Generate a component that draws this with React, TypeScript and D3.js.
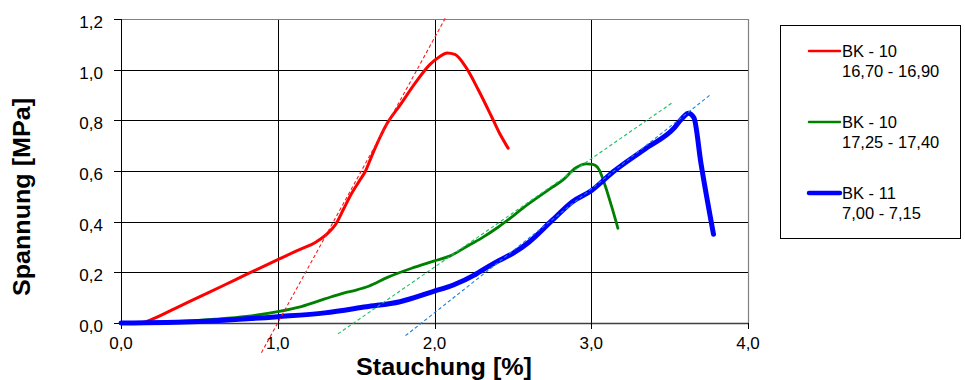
import React from "react";
import * as d3 from "d3";

const redX = [0, 0.1, 0.15, 0.2, 0.35, 0.5, 0.65, 0.8, 1.0, 1.12, 1.25, 1.32, 1.37, 1.42, 1.47, 1.52, 1.56, 1.6, 1.65, 1.7, 1.78, 1.88, 1.97, 2.03, 2.08, 2.13, 2.2, 2.28, 2.36, 2.41, 2.47];
const redY = [0, 0, 0.003, 0.015, 0.059, 0.103, 0.147, 0.192, 0.25, 0.285, 0.322, 0.355, 0.39, 0.45, 0.51, 0.56, 0.6, 0.66, 0.73, 0.79, 0.86, 0.95, 1.02, 1.05, 1.066, 1.06, 1.01, 0.92, 0.82, 0.755, 0.69];

const greenX = [0, 0.3, 0.6, 0.8, 1.0, 1.15, 1.3, 1.42, 1.5, 1.58, 1.7, 1.85, 2.0, 2.1, 2.2, 2.3, 2.41, 2.6, 2.75, 2.82, 2.9, 2.97, 3.01, 3.05, 3.09, 3.13, 3.17];
const greenY = [0, 0.004, 0.015, 0.026, 0.045, 0.065, 0.095, 0.118, 0.13, 0.145, 0.18, 0.215, 0.245, 0.265, 0.3, 0.335, 0.38, 0.47, 0.535, 0.565, 0.612, 0.628, 0.626, 0.605, 0.54, 0.46, 0.374];

const blueX = [0, 0.5, 1.0, 1.3, 1.565, 1.78, 1.99, 2.12, 2.25, 2.29, 2.41, 2.5, 2.6, 2.75, 2.88, 3.0, 3.14, 3.35, 3.53, 3.58, 3.62, 3.655, 3.7, 3.78];
const blueY = [0, 0.006, 0.025, 0.04, 0.064, 0.084, 0.124, 0.15, 0.188, 0.203, 0.246, 0.275, 0.318, 0.405, 0.479, 0.522, 0.597, 0.69, 0.77, 0.808, 0.828, 0.81, 0.63, 0.35];

const redFitX = [0.896, 2.074];
const redFitY = [-0.117, 1.209];
const greenFitX = [1.384, 3.518];
const greenFitY = [-0.043, 0.87];
const blueFitX = [1.815, 3.758];
const blueFitY = [-0.05, 0.9];

const xTicks = [0, 1, 2, 3, 4];
const yTicks = [0, 0.2, 0.4, 0.6, 0.8, 1.0, 1.2];

const legendNames = ["BK - 10", "BK - 10", "BK - 11"];
const legendRanges = ["16,70 - 16,90", "17,25 - 17,40", "7,00 - 7,15"];

const FONT = "'Liberation Sans', Arial, Helvetica, sans-serif";

export default function App() {
  const left = 121, right = 748, top = 19, bottom = 323;
  const x = d3.scaleLinear().domain([0, 4]).range([left, right]);
  const y = d3.scaleLinear().domain([0, 1.2]).range([bottom, top]);
  const line = d3.line<[number, number]>().x(d => x(d[0])).y(d => y(d[1])).curve(d3.curveMonotoneX);
  const straight = d3.line<[number, number]>().x(d => x(d[0])).y(d => y(d[1]));
  const zip = (a: number[], b: number[]) => a.map((v, i) => [v, b[i]] as [number, number]);

  const series = [
    { xs: redX, ys: redY, color: "#FF0000", w: 3, fx: redFitX, fy: redFitY, fc: "#FF1A1A" },
    { xs: greenX, ys: greenY, color: "#008000", w: 2.8, fx: greenFitX, fy: greenFitY, fc: "#1DBF5F" },
    { xs: blueX, ys: blueY, color: "#0000FF", w: 5, fx: blueFitX, fy: blueFitY, fc: "#1F7FD6" },
  ];
  const fmt = (v: number) => v.toFixed(1).replace(".", ",");
  const legendY = [51, 122, 193];

  return (
    <svg width={965} height={380} style={{ position: "absolute", left: 0, top: 0, background: "#fff" }} fontFamily={FONT}>
      <rect x={0} y={0} width={965} height={380} fill="#fff" />
      {yTicks.slice(1, -1).map(t => (
        <line key={"gy" + t} x1={left} x2={right} y1={Math.round(y(t)) + 0.5} y2={Math.round(y(t)) + 0.5} stroke="#000" strokeWidth={1} />
      ))}
      {xTicks.slice(1, -1).map(t => (
        <line key={"gx" + t} x1={Math.round(x(t)) + 0.5} x2={Math.round(x(t)) + 0.5} y1={top} y2={bottom} stroke="#000" strokeWidth={1} />
      ))}
      <line x1={left} x2={right} y1={top + 0.5} y2={top + 0.5} stroke="#808080" strokeWidth={1.2} />
      <line x1={right + 0.5} x2={right + 0.5} y1={top} y2={bottom} stroke="#808080" strokeWidth={1.2} />
      <line x1={left + 0.5} x2={left + 0.5} y1={top} y2={bottom} stroke="#000" strokeWidth={1} />
      <line x1={left} x2={right} y1={bottom + 0.5} y2={bottom + 0.5} stroke="#404040" strokeWidth={1.5} />
      {yTicks.map(t => (
        <g key={"ty" + t}>
          <line x1={114} x2={left} y1={Math.round(y(t)) + 0.5} y2={Math.round(y(t)) + 0.5} stroke="#000" />
          <text x={103} y={y(t) + 9} textAnchor="end" fontSize={17} fill="#000">{fmt(t)}</text>
        </g>
      ))}
      {xTicks.map(t => (
        <g key={"tx" + t}>
          <line x1={Math.round(x(t)) + 0.5} x2={Math.round(x(t)) + 0.5} y1={bottom} y2={bottom + 6} stroke="#000" />
          <text x={x(t)} y={348.5} textAnchor="middle" fontSize={17} fill="#000">{fmt(t)}</text>
        </g>
      ))}
      {series.map((s, i) => (
        <path key={"c" + i} d={line(zip(s.xs, s.ys)) || ""} fill="none" stroke={s.color} strokeWidth={s.w} strokeLinejoin="round" strokeLinecap="round" />
      ))}
      {series.map((s, i) => (
        <path key={"f" + i} d={straight(zip(s.fx, s.fy)) || ""} fill="none" stroke={s.fc} strokeWidth={1.1} strokeDasharray="3.5,2.5" />
      ))}
      <text x={444} y={374.5} textAnchor="middle" fontSize={23.5} fontWeight="bold" fill="#000" textLength={176} lengthAdjust="spacingAndGlyphs">Stauchung [%]</text>
      <text transform="translate(30,197) rotate(-90)" textAnchor="middle" fontSize={24} fontWeight="bold" fill="#000" textLength={198} lengthAdjust="spacingAndGlyphs">Spannung [MPa]</text>
      <rect x={780.5} y={25.5} width={180} height={213} fill="#fff" stroke="#000" strokeWidth={1} />
      {series.map((s, i) => (
        <g key={"l" + i}>
          <line x1={809} x2={840} y1={legendY[i]} y2={legendY[i]} stroke={s.color} strokeWidth={i === 2 ? 4.5 : 2.5} strokeLinecap="round" />
          <text x={842} y={legendY[i] + 6} fontSize={16.5} fill="#000">{legendNames[i]}</text>
          <text x={842} y={legendY[i] + 26} fontSize={16.5} fill="#000">{legendRanges[i]}</text>
        </g>
      ))}
    </svg>
  );
}
